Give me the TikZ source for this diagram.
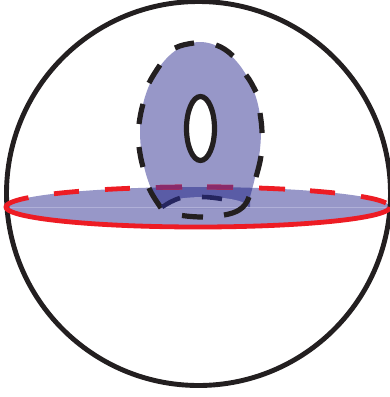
\documentclass[tikz,border=0pt]{standalone}
\definecolor{disc}{HTML}{9797C8}
\definecolor{overlap}{HTML}{5A5CA6}
\definecolor{inkk}{HTML}{231F20}
\definecolor{redd}{HTML}{ED1C24}
\definecolor{purp}{HTML}{8A2A6A}
\definecolor{navy}{HTML}{25255F}
\definecolor{seam}{HTML}{B0B0D8}
\tikzset{
  inkline/.style={draw=inkk,line width=4.9pt},
  dashpiece/.style={draw=inkk,line width=5.2pt},
  navypiece/.style={draw=navy,line width=4.6pt},
  redline/.style={draw=redd,line width=4.8pt},
  purpline/.style={draw=purp,line width=4.8pt}
}
\newcommand{\teardrop}{(200,42) .. controls (232,42) and (261,85) .. (261,130) .. controls (261,155) and (256,175) .. (250,197) -- (250,208) -- (161,208) .. controls (150,190) and (140,165) .. (140,130) .. controls (140,85) and (168,42) .. (200,42) -- cycle}
\newcommand{\discpath}{(198,207) ellipse [x radius=192, y radius=20]}
\newcommand{\holepath}{(204,207) ellipse [x radius=44, y radius=10]}
\newcommand{\redtop}[3][redline]{\draw[#1] plot[smooth,domain=#2:#3,samples=7] ({\x},{207-20*sqrt(1-((\x-198)/192)^2)});}
\begin{document}
\begin{tikzpicture}[x=1pt,y=-1pt]
\useasboundingbox (0,0) rectangle (390,397);
\clip (0,0) rectangle (390,397);
\fill[white] (0,0) rectangle (390,397);
% teardrop and disc
\fill[disc] \teardrop;
\fill[disc] \discpath;
\begin{scope}
  \clip \teardrop;
  \fill[overlap] \discpath;
  \fill[disc] \holepath;
\end{scope}
\draw[seam,line width=0.5pt] (10,207) -- (386,207);
% sphere
\draw[inkline] (198.5,193.5) circle [radius=192];
% equator
\draw[redline,line join=round] plot[smooth,domain=152:360,samples=90] ({198+192*cos(\x)},{207-20*sin(\x)});
\redtop{54}{79}
\redtop{105}{130}
\redtop{156}{182}
\redtop{207}{233}
\redtop{259}{285}
\redtop{310}{335}
\redtop{361}{386}
\begin{scope}
  \clip \teardrop;
  \redtop[purpline]{156}{182}
  \redtop[purpline]{207}{233}
\end{scope}
% handle hole
\draw[dashpiece,fill=white] (200.5,128.5) ellipse [x radius=14, y radius=32];
% dashed outline
\draw[dashpiece] (175,48) .. controls (181,45) and (187,44) .. (194,43);
\draw[dashpiece] (216,45) .. controls (222,47) and (228,51) .. (233,56);
\draw[dashpiece] (246,75) .. controls (250,80) and (253,86) .. (256,92);
\draw[dashpiece] (260,113) .. controls (261,120) and (262,126) .. (262,133);
\draw[dashpiece] (261,156) .. controls (260,163) and (258,170) .. (256,177);
\draw[dashpiece] (160,65) .. controls (156,71) and (152,77) .. (149,83);
\draw[dashpiece] (143,104) .. controls (141,111) and (140,117) .. (139,124);
\draw[dashpiece] (139,147) .. controls (140,154) and (141,160) .. (143,167);
\draw[dashpiece] (149,188) .. controls (152,195) and (157,202) .. (161,208);
\draw[navypiece] (162,207) .. controls (168,203) and (174,200) .. (180,198);
\draw[navypiece] (202,197) .. controls (209,197) and (216,198) .. (222,199);
\draw[dashpiece] (182,215.5) .. controls (189,216.5) and (196,217) .. (203,217);
\draw[dashpiece] (224,215) .. controls (236,213) and (245,209) .. (249,197);
\end{tikzpicture}
\end{document}
